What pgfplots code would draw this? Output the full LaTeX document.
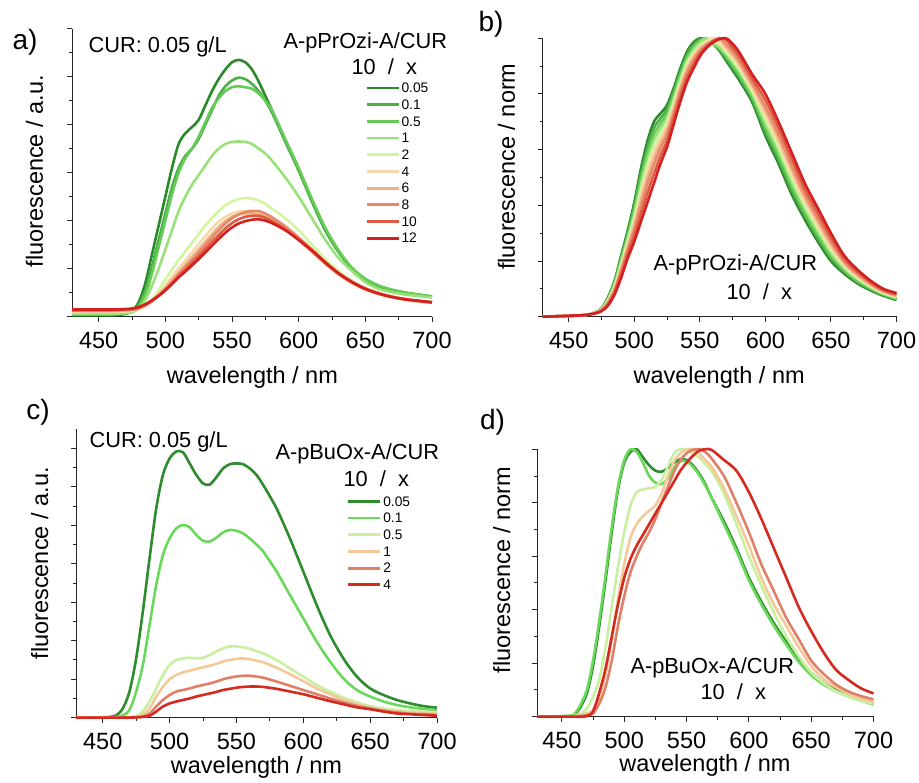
\documentclass[border=0pt]{standalone}
\usepackage{fontspec}
\setmainfont{Liberation Sans}
\usepackage{pgfplots}
\usepackage{pgfplotstable}
\pgfplotsset{compat=1.18}

% colours, green -> red
\definecolor{a1}{RGB}{42,138,42}
\definecolor{a2}{RGB}{76,175,76}
\definecolor{a3}{RGB}{102,204,85}
\definecolor{a4}{RGB}{153,226,122}
\definecolor{a5}{RGB}{212,245,160}
\definecolor{a6}{RGB}{248,216,168}
\definecolor{a7}{RGB}{240,176,136}
\definecolor{a8}{RGB}{232,136,104}
\definecolor{a9}{RGB}{220,90,68}
\definecolor{a10}{RGB}{212,32,32}
\definecolor{c1}{RGB}{46,139,46}
\definecolor{c2}{RGB}{106,216,90}
\definecolor{c3}{RGB}{200,240,160}
\definecolor{c4}{RGB}{245,200,152}
\definecolor{c5}{RGB}{224,128,104}
\definecolor{c6}{RGB}{212,42,32}

\newcommand\tickfont{\fontsize{23.5}{28}\selectfont}
\newcommand\labfont{\fontsize{23.5}{28}\selectfont}
\newcommand\annfont{\fontsize{21.8}{26}\selectfont}
\newcommand\legfont{\fontsize{13.8}{15}\selectfont}
\newcommand\panfont{\fontsize{28}{32}\selectfont}

% panel a: A-pPrOzi-A/CUR, fluorescence / a.u.
\pgfplotstableread{
x   s1   s2   s3   s4   s5   s6   s7   s8   s9   s10
430 0.03 0.05 0.05 0.06 0.10 0.10 0.12 0.13 0.14 0.15
460 0.03 0.05 0.05 0.06 0.10 0.10 0.12 0.13 0.14 0.15
470 0.06 0.07 0.07 0.08 0.11 0.11 0.13 0.14 0.15 0.16
475 0.12 0.11 0.10 0.10 0.13 0.13 0.14 0.15 0.16 0.17
480 0.30 0.25 0.20 0.16 0.16 0.16 0.17 0.18 0.19 0.20
485 0.70 0.55 0.45 0.35 0.24 0.23 0.23 0.24 0.25 0.26
490 1.30 1.05 0.90 0.65 0.36 0.33 0.32 0.33 0.33 0.34
495 1.90 1.60 1.45 1.00 0.55 0.48 0.45 0.44 0.43 0.44
500 2.50 2.15 2.00 1.40 0.78 0.65 0.60 0.57 0.55 0.55
505 3.10 2.70 2.55 1.80 0.98 0.83 0.76 0.72 0.69 0.68
510 3.60 3.10 3.00 2.20 1.18 1.00 0.92 0.88 0.84 0.82
515 3.82 3.35 3.30 2.50 1.36 1.17 1.08 1.03 0.98 0.94
520 3.95 3.50 3.50 2.75 1.54 1.34 1.24 1.18 1.12 1.07
525 4.10 3.70 3.75 2.95 1.72 1.51 1.40 1.33 1.26 1.20
530 4.40 4.00 4.05 3.15 1.90 1.68 1.56 1.49 1.41 1.34
535 4.70 4.30 4.35 3.35 2.06 1.84 1.72 1.65 1.56 1.48
540 4.95 4.60 4.55 3.50 2.20 1.98 1.87 1.80 1.70 1.62
545 5.15 4.80 4.70 3.60 2.32 2.08 1.99 1.94 1.84 1.75
550 5.30 4.92 4.78 3.64 2.40 2.15 2.08 2.05 1.95 1.86
555 5.35 4.98 4.80 3.65 2.45 2.19 2.13 2.13 2.03 1.94
560 5.30 4.95 4.78 3.64 2.47 2.20 2.15 2.18 2.08 1.99
565 5.15 4.85 4.75 3.60 2.46 2.20 2.15 2.20 2.10 2.02
570 4.90 4.70 4.65 3.50 2.42 2.17 2.13 2.20 2.10 2.03
575 4.60 4.50 4.50 3.40 2.35 2.12 2.08 2.15 2.06 2.00
580 4.30 4.25 4.30 3.25 2.25 2.05 2.01 2.07 1.99 1.95
590 3.65 3.65 3.70 2.90 2.05 1.85 1.83 1.88 1.82 1.80
600 3.05 3.05 3.10 2.50 1.80 1.60 1.60 1.65 1.60 1.60
610 2.40 2.40 2.45 2.05 1.50 1.35 1.35 1.40 1.37 1.38
620 1.80 1.80 1.85 1.60 1.20 1.10 1.10 1.14 1.12 1.13
630 1.35 1.35 1.38 1.22 0.95 0.88 0.88 0.91 0.90 0.90
640 1.00 1.00 1.02 0.95 0.75 0.70 0.70 0.73 0.72 0.72
650 0.77 0.78 0.79 0.72 0.60 0.56 0.57 0.59 0.58 0.58
660 0.63 0.64 0.65 0.58 0.50 0.47 0.48 0.49 0.48 0.48
670 0.55 0.56 0.56 0.51 0.42 0.40 0.41 0.42 0.41 0.41
680 0.50 0.50 0.50 0.46 0.37 0.35 0.36 0.37 0.36 0.36
690 0.45 0.46 0.46 0.43 0.33 0.31 0.32 0.33 0.33 0.33
700 0.42 0.42 0.42 0.40 0.30 0.29 0.29 0.30 0.30 0.30
}\tabA

% panel b: same series, normalised
\pgfplotstableread{
x   s1    s2    s3    s4    s5    s6    s7    s8    s9    s10
430 0     0     0     0     0     0     0     0     0     0
460 0.005 0.005 0.005 0.005 0.005 0.005 0.005 0.005 0.005 0.005
470 0.015 0.015 0.014 0.014 0.014 0.014 0.013 0.013 0.012 0.012
475 0.030 0.029 0.028 0.027 0.026 0.025 0.024 0.023 0.021 0.020
480 0.070 0.067 0.064 0.061 0.058 0.055 0.052 0.049 0.045 0.040
485 0.130 0.125 0.120 0.115 0.110 0.105 0.100 0.095 0.088 0.080
490 0.220 0.212 0.204 0.196 0.188 0.180 0.172 0.164 0.152 0.140
495 0.310 0.300 0.290 0.280 0.270 0.260 0.250 0.240 0.225 0.210
500 0.410 0.396 0.382 0.368 0.354 0.340 0.326 0.312 0.291 0.270
505 0.530 0.511 0.492 0.473 0.454 0.435 0.416 0.397 0.368 0.340
510 0.630 0.608 0.586 0.564 0.542 0.520 0.498 0.476 0.443 0.410
515 0.700 0.678 0.656 0.634 0.612 0.590 0.568 0.546 0.513 0.480
520 0.730 0.712 0.694 0.676 0.658 0.640 0.622 0.604 0.577 0.550
525 0.760 0.745 0.730 0.715 0.700 0.685 0.670 0.655 0.632 0.610
530 0.820 0.807 0.794 0.781 0.768 0.755 0.742 0.729 0.710 0.690
535 0.890 0.878 0.866 0.854 0.842 0.830 0.818 0.806 0.788 0.770
540 0.950 0.939 0.928 0.917 0.906 0.895 0.884 0.873 0.857 0.840
545 0.985 0.976 0.966 0.957 0.947 0.938 0.928 0.919 0.904 0.890
550 1.000 0.995 0.990 0.985 0.974 0.968 0.961 0.954 0.945 0.935
555 0.995 1.000 1.000 1.000 0.990 0.985 0.980 0.975 0.970 0.965
560 0.980 0.980 0.981 0.982 1.000 1.000 0.990 0.990 0.990 0.985
565 0.955 0.959 0.963 0.968 0.980 0.985 1.000 1.000 1.000 0.997
570 0.920 0.928 0.936 0.944 0.952 0.960 0.970 0.980 0.995 1.000
575 0.885 0.895 0.904 0.914 0.923 0.933 0.942 0.952 0.966 0.980
580 0.850 0.860 0.870 0.880 0.890 0.900 0.910 0.920 0.935 0.950
590 0.770 0.780 0.790 0.800 0.810 0.820 0.830 0.840 0.855 0.870
600 0.650 0.665 0.680 0.695 0.710 0.725 0.740 0.755 0.778 0.800
610 0.550 0.565 0.580 0.595 0.610 0.625 0.640 0.655 0.678 0.700
620 0.440 0.455 0.470 0.485 0.500 0.515 0.530 0.545 0.568 0.590
630 0.350 0.363 0.376 0.389 0.402 0.415 0.428 0.441 0.460 0.480
640 0.270 0.282 0.294 0.306 0.318 0.330 0.342 0.354 0.372 0.390
650 0.200 0.210 0.220 0.230 0.240 0.250 0.260 0.270 0.285 0.300
660 0.155 0.162 0.168 0.175 0.181 0.188 0.194 0.200 0.210 0.220
670 0.120 0.125 0.130 0.135 0.140 0.145 0.150 0.155 0.162 0.170
680 0.095 0.099 0.102 0.106 0.109 0.113 0.116 0.120 0.125 0.130
690 0.075 0.078 0.080 0.083 0.085 0.088 0.090 0.093 0.096 0.100
700 0.060 0.063 0.065 0.068 0.070 0.073 0.075 0.078 0.081 0.085
}\tabB

% panel c: A-pBuOx-A/CUR, fluorescence / a.u.
\pgfplotstableread{
x   s1   s2   s3   s4   s5   s6
430 0    0    0    0    0    0
450 0.01 0    0    0    0    0
455 0.02 0.01 0    0    0    0
460 0.06 0.02 0.01 0    0    0
465 0.24 0.06 0.01 0.01 0    0
470 0.68 0.20 0.02 0.01 0.01 0
475 1.54 0.68 0.04 0.02 0.01 0.01
480 2.76 1.37 0.16 0.07 0.03 0.02
485 4.14 2.41 0.42 0.24 0.11 0.05
490 5.44 3.45 0.76 0.55 0.29 0.16
495 6.31 4.23 1.11 0.80 0.46 0.29
500 6.74 4.66 1.37 1.00 0.59 0.37
505 6.92 4.92 1.50 1.11 0.68 0.42
510 6.90 5.01 1.54 1.18 0.72 0.46
515 6.61 4.95 1.56 1.22 0.76 0.50
520 6.31 4.75 1.54 1.27 0.81 0.55
525 6.09 4.60 1.56 1.31 0.85 0.59
530 6.06 4.58 1.63 1.35 0.89 0.63
535 6.25 4.68 1.72 1.40 0.94 0.67
540 6.48 4.82 1.80 1.46 1.00 0.72
545 6.59 4.88 1.85 1.50 1.04 0.75
550 6.61 4.86 1.85 1.53 1.07 0.78
555 6.59 4.79 1.83 1.54 1.09 0.80
560 6.48 4.66 1.79 1.52 1.09 0.81
565 6.31 4.50 1.73 1.48 1.07 0.81
570 6.05 4.32 1.67 1.44 1.04 0.80
580 5.44 3.80 1.50 1.30 0.94 0.75
590 4.66 3.19 1.28 1.13 0.83 0.68
600 3.80 2.58 1.07 0.95 0.72 0.61
610 2.93 1.98 0.85 0.76 0.61 0.52
620 2.15 1.46 0.68 0.61 0.50 0.43
630 1.54 1.02 0.52 0.46 0.40 0.35
640 1.07 0.72 0.40 0.35 0.31 0.27
650 0.76 0.55 0.30 0.26 0.24 0.22
660 0.59 0.42 0.24 0.20 0.18 0.16
670 0.46 0.33 0.20 0.16 0.14 0.11
680 0.37 0.27 0.17 0.13 0.10 0.09
690 0.30 0.23 0.16 0.11 0.09 0.07
700 0.26 0.19 0.14 0.10 0.07 0.05
}\tabC

% panel d: same series, normalised
\pgfplotstableread{
x   s1    s2    s3    s4    s5    s6
430 0     0     0     0     0     0
455 0.002 0.003 0     0     0     0
460 0.006 0.010 0.003 0.002 0     0
465 0.037 0.045 0.010 0.006 0.003 0
470 0.087 0.100 0.030 0.012 0.006 0.002
475 0.190 0.210 0.075 0.025 0.012 0.020
480 0.340 0.360 0.140 0.075 0.050 0.090
485 0.510 0.530 0.260 0.160 0.110 0.180
490 0.690 0.710 0.410 0.290 0.210 0.300
495 0.850 0.860 0.560 0.440 0.340 0.420
500 0.950 0.960 0.690 0.570 0.450 0.520
505 0.990 1.000 0.790 0.670 0.540 0.590
510 1.000 0.990 0.840 0.720 0.600 0.640
515 0.970 0.950 0.850 0.750 0.650 0.680
520 0.940 0.900 0.854 0.770 0.690 0.720
525 0.920 0.875 0.860 0.790 0.740 0.760
530 0.916 0.870 0.885 0.835 0.800 0.800
535 0.930 0.890 0.935 0.900 0.860 0.840
540 0.950 0.930 0.985 0.955 0.916 0.880
545 0.963 0.955 1.000 0.985 0.960 0.920
550 0.960 0.955 0.998 0.998 0.985 0.950
555 0.940 0.935 0.985 1.000 0.998 0.975
560 0.910 0.905 0.970 0.985 1.000 0.995
565 0.870 0.865 0.945 0.960 0.990 1.000
570 0.820 0.820 0.920 0.935 0.966 0.998
580 0.730 0.720 0.835 0.854 0.900 0.960
590 0.630 0.620 0.720 0.750 0.800 0.920
600 0.520 0.510 0.600 0.640 0.690 0.840
610 0.430 0.420 0.490 0.520 0.570 0.740
620 0.350 0.340 0.390 0.420 0.470 0.630
630 0.280 0.270 0.300 0.340 0.370 0.520
640 0.215 0.205 0.225 0.260 0.290 0.410
650 0.165 0.155 0.165 0.190 0.210 0.320
660 0.125 0.120 0.125 0.140 0.160 0.240
670 0.100 0.095 0.095 0.110 0.120 0.175
680 0.080 0.075 0.075 0.085 0.094 0.137
690 0.065 0.060 0.060 0.068 0.077 0.106
700 0.050 0.045 0.048 0.056 0.065 0.087
}\tabD

\pgfplotsset{
  panel/.style={
    scale only axis, xmin=430, xmax=700, clip=false,
    axis x line*=bottom, axis y line*=left,
    axis line style={-, line width=1pt, black!85},
    tick align=outside, major tick length=5pt, minor tick length=3pt,
    every tick/.style={line width=1pt, black!85},
    xtick={450,500,...,700}, minor xtick={475,525,...,675},
    yticklabels={},
    /pgf/number format/assume math mode=true,
    /pgf/number format/set thousands separator={},
    xticklabel style={font=\tickfont, anchor=base, yshift=-26.6pt},
    xlabel={wavelength / nm}, label style={font=\labfont},
    every axis plot/.append style={line width=2.6pt, smooth, no markers},
    % longer legend strokes, set after each plot's own options
    every axis plot post/.append style={
      legend image code/.code={\draw[####1, line width=2.8pt] (0pt,0pt) -- (32pt,0pt);}},
    legend style={draw=none, fill=none, inner sep=0pt, font=\legfont,
      row sep=7.2pt, column sep=1.5pt,
      nodes={inner sep=0pt, text height=9.5pt, text depth=0pt}},
    legend cell align=left,
  }
}

\begin{document}
\begin{tikzpicture}[x=1pt,y=1pt]

% a)
\begin{axis}[panel, at={(72pt,466.3pt)}, anchor=south west, width=360pt, height=288pt,
  ymin=0, ymax=6, ytick={0,...,6}, minor ytick={0.5,1.5,...,5.5},
  ylabel={fluorescence / a.u.},
  ylabel style={at={(axis description cs:-0.0806,0.505)}, anchor=base},
  xlabel style={at={(axis description cs:0.501,-0.231)}, anchor=base},
  legend style={at={(rel axis cs:0.814,0.8115)}, anchor=north west}]
\addplot[a1] table[x=x,y=s1]{\tabA};
\addplot[a2] table[x=x,y=s2]{\tabA};
\addplot[a3] table[x=x,y=s3]{\tabA};
\addplot[a4] table[x=x,y=s4]{\tabA};
\addplot[a5] table[x=x,y=s5]{\tabA};
\addplot[a6] table[x=x,y=s6]{\tabA};
\addplot[a7] table[x=x,y=s7]{\tabA};
\addplot[a8] table[x=x,y=s8]{\tabA};
\addplot[a9] table[x=x,y=s9]{\tabA};
\addplot[a10] table[x=x,y=s10]{\tabA};
\legend{0.05,0.1,0.5,1,2,4,6,8,10,12}
\end{axis}

% b)
\begin{axis}[panel, at={(542.5pt,466.3pt)}, anchor=south west, width=354pt, height=278.4pt,
  ymin=0, ymax=1, ytick={0,0.2,...,1}, minor ytick={0.1,0.3,...,0.9},
  ylabel={fluorescence / norm},
  ylabel style={at={(axis description cs:-0.078,0.539)}, anchor=base},
  xlabel style={at={(axis description cs:0.499,-0.239)}, anchor=base}]
\addplot[a1] table[x=x,y=s1]{\tabB};
\addplot[a2] table[x=x,y=s2]{\tabB};
\addplot[a3] table[x=x,y=s3]{\tabB};
\addplot[a4] table[x=x,y=s4]{\tabB};
\addplot[a5] table[x=x,y=s5]{\tabB};
\addplot[a6] table[x=x,y=s6]{\tabB};
\addplot[a7] table[x=x,y=s7]{\tabB};
\addplot[a8] table[x=x,y=s8]{\tabB};
\addplot[a9] table[x=x,y=s9]{\tabB};
\addplot[a10] table[x=x,y=s10]{\tabB};
\end{axis}

% c)
\begin{axis}[panel, at={(76pt,65.3pt)}, anchor=south west, width=361pt, height=288.5pt,
  ymin=0, ymax=7.5, ytick={0,...,7}, minor ytick={0.5,1.5,...,6.5},
  ylabel={fluorescence / a.u.},
  ylabel style={at={(axis description cs:-0.077,0.535)}, anchor=base},
  xlabel style={at={(axis description cs:0.5,-0.192)}, anchor=base},
  legend style={at={(rel axis cs:0.75,0.767)}, anchor=north west}]
\addplot[c1] table[x=x,y=s1]{\tabC};
\addplot[c2] table[x=x,y=s2]{\tabC};
\addplot[c3] table[x=x,y=s3]{\tabC};
\addplot[c4] table[x=x,y=s4]{\tabC};
\addplot[c5] table[x=x,y=s5]{\tabC};
\addplot[c6] table[x=x,y=s6]{\tabC};
\legend{0.05,0.1,0.5,1,2,4}
\end{axis}

% d)
\begin{axis}[panel, at={(537pt,66.3pt)}, anchor=south west, width=336.5pt, height=267.4pt,
  ymin=0, ymax=1, ytick={0,0.2,...,1}, minor ytick={0.1,0.3,...,0.9},
  ylabel={fluorescence / norm},
  ylabel style={at={(axis description cs:-0.08,0.549)}, anchor=base},
  xlabel style={at={(axis description cs:0.499,-0.206)}, anchor=base}]
\addplot[c1] table[x=x,y=s1]{\tabD};
\addplot[c2] table[x=x,y=s2]{\tabD};
\addplot[c3] table[x=x,y=s3]{\tabD};
\addplot[c4] table[x=x,y=s4]{\tabD};
\addplot[c5] table[x=x,y=s5]{\tabD};
\addplot[c6] table[x=x,y=s6]{\tabD};
\end{axis}

% panel letters and captions
\node[font=\panfont] at (25pt,741pt) {a)};
\node[font=\panfont] at (491pt,758.5pt) {b)};
\node[font=\panfont] at (38pt,371pt) {c)};
\node[font=\panfont] at (492.5pt,360.5pt) {d)};

\node[font=\annfont, anchor=base west] at (85pt,730.3pt) {CUR: 0.05 g/L};
\node[font=\annfont, anchor=base west] at (280pt,734.7pt) {A-pPrOzi-A/CUR};
\node[font=\annfont, anchor=base west] at (348pt,708pt) {10~~/~~x};

\node[font=\annfont, anchor=base west] at (650pt,512.3pt) {A-pPrOzi-A/CUR};
\node[font=\annfont, anchor=base west] at (723pt,483pt) {10~~/~~x};

\node[font=\annfont, anchor=base west] at (86pt,335.7pt) {CUR: 0.05 g/L};
\node[font=\annfont, anchor=base west] at (272pt,323pt) {A-pBuOx-A/CUR};
\node[font=\annfont, anchor=base west] at (340pt,296.3pt) {10~~/~~x};

\node[font=\annfont, anchor=base west] at (627pt,109.7pt) {A-pBuOx-A/CUR};
\node[font=\annfont, anchor=base west] at (697pt,83pt) {10~~/~~x};

\pgfresetboundingbox
\path[use as bounding box] (0pt,0pt) rectangle (919pt,783pt);
\end{tikzpicture}
\end{document}
